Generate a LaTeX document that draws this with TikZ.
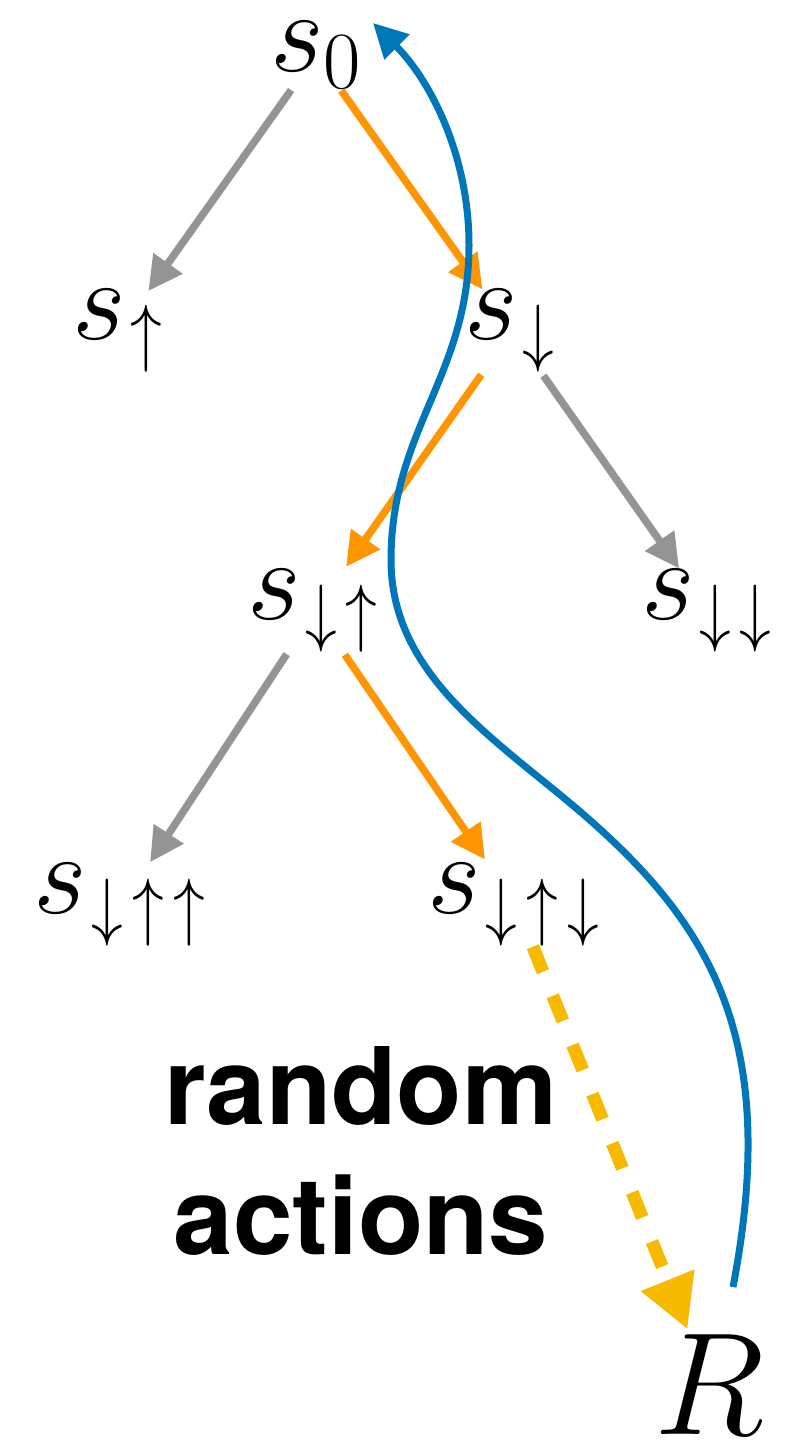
\RequirePackage{fix-cm}
\documentclass[tikz,border=0pt]{standalone}
\usepackage{graphicx}
\usepackage{fontspec}
\newfontfamily\headfont{TeX Gyre Heros}
\usetikzlibrary{arrows.meta}
\definecolor{cgray}{RGB}{148,148,148}
\definecolor{corange}{RGB}{255,149,0}
\definecolor{cblue}{RGB}{0,118,186}
\definecolor{cyellow}{RGB}{247,186,0}
\newcommand{\sarr}[1]{\hbox to 20.3pt{\hss\scalebox{0.78}[0.93]{$\scriptstyle#1$}\hss}}
\begin{document}
\begin{tikzpicture}[x=0.5pt,y=-0.5pt,
  state/.style={inner sep=0pt,font=\fontsize{58}{60}\selectfont},
  tipsmall/.style={-{Triangle[length=17pt,width=17pt]}},
  grayedge/.style={draw=cgray,line width=3.75pt,tipsmall},
  orangeedge/.style={draw=corange,line width=3.75pt,tipsmall},
  blueedge/.style={draw=cblue,line width=3.5pt,tipsmall},
  randedge/.style={draw=cyellow,line width=6.5pt,dash pattern=on 13.5pt off 13pt,
    -{Triangle[length=26.5pt,width=27pt]}},
  randlabel/.style={inner sep=0pt,align=center,font=\headfont\bfseries\fontsize{53.5}{65}\selectfont}]
\useasboundingbox (0,0) rectangle (800,1441);
\node[state] (s0) at (316,55) {$s_0$};
\node[state] (sup) at (120,331) {$s_{\sarr\uparrow}$};
\node[state] (sdown) at (512,331) {$s_{\sarr\downarrow}$};
\node[state] (sdu) at (315,611) {$s_{\sarr\downarrow\sarr\uparrow}$};
\node[state] (sdd) at (709,611) {$s_{\sarr\downarrow\sarr\downarrow}$};
\node[state] (sduu) at (122,905) {$s_{\sarr\downarrow\sarr\uparrow\sarr\uparrow}$};
\node[state] (sdud) at (516,905) {$s_{\sarr\downarrow\sarr\uparrow\sarr\downarrow}$};
\node[inner sep=0pt,font=\fontsize{73}{75}\selectfont] (R) at (710,1385) {$R$};
\node[randlabel] (rand) at (361,1151) {random\\actions};
\coordinate (bstart) at (733,1287);
\coordinate (btip) at (373,23);
\draw[grayedge,shorten <=21.5pt,shorten >=24.5pt] (s0.center) -- (sup.center);
\draw[orangeedge,shorten <=21.8pt,shorten >=25.5pt] (s0.center) -- (sdown.center);
\draw[orangeedge,shorten <=26.75pt,shorten >=27pt] (sdown.center) -- (sdu.center);
\draw[grayedge,shorten <=27.3pt,shorten >=26pt] (sdown.center) -- (sdd.center);
\draw[grayedge,shorten <=25.8pt,shorten >=25.6pt] (sdu.center) -- (sduu.center);
\draw[orangeedge,shorten <=26.5pt,shorten >=27.5pt] (sdu.center) -- (sdud.center);
\draw[randedge,shorten <=22.5pt,shorten >=30pt] (sdud.center) -- (R.center);
\draw[blueedge] (bstart)
  .. controls (782,1032) and (707,918) .. (570,803)
  .. controls (486,733) and (391,670) .. (391,560)
  .. controls (391,430) and (469,375) .. (469,245)
  .. controls (469,155) and (430,80) .. (btip);
\end{tikzpicture}
\end{document}
